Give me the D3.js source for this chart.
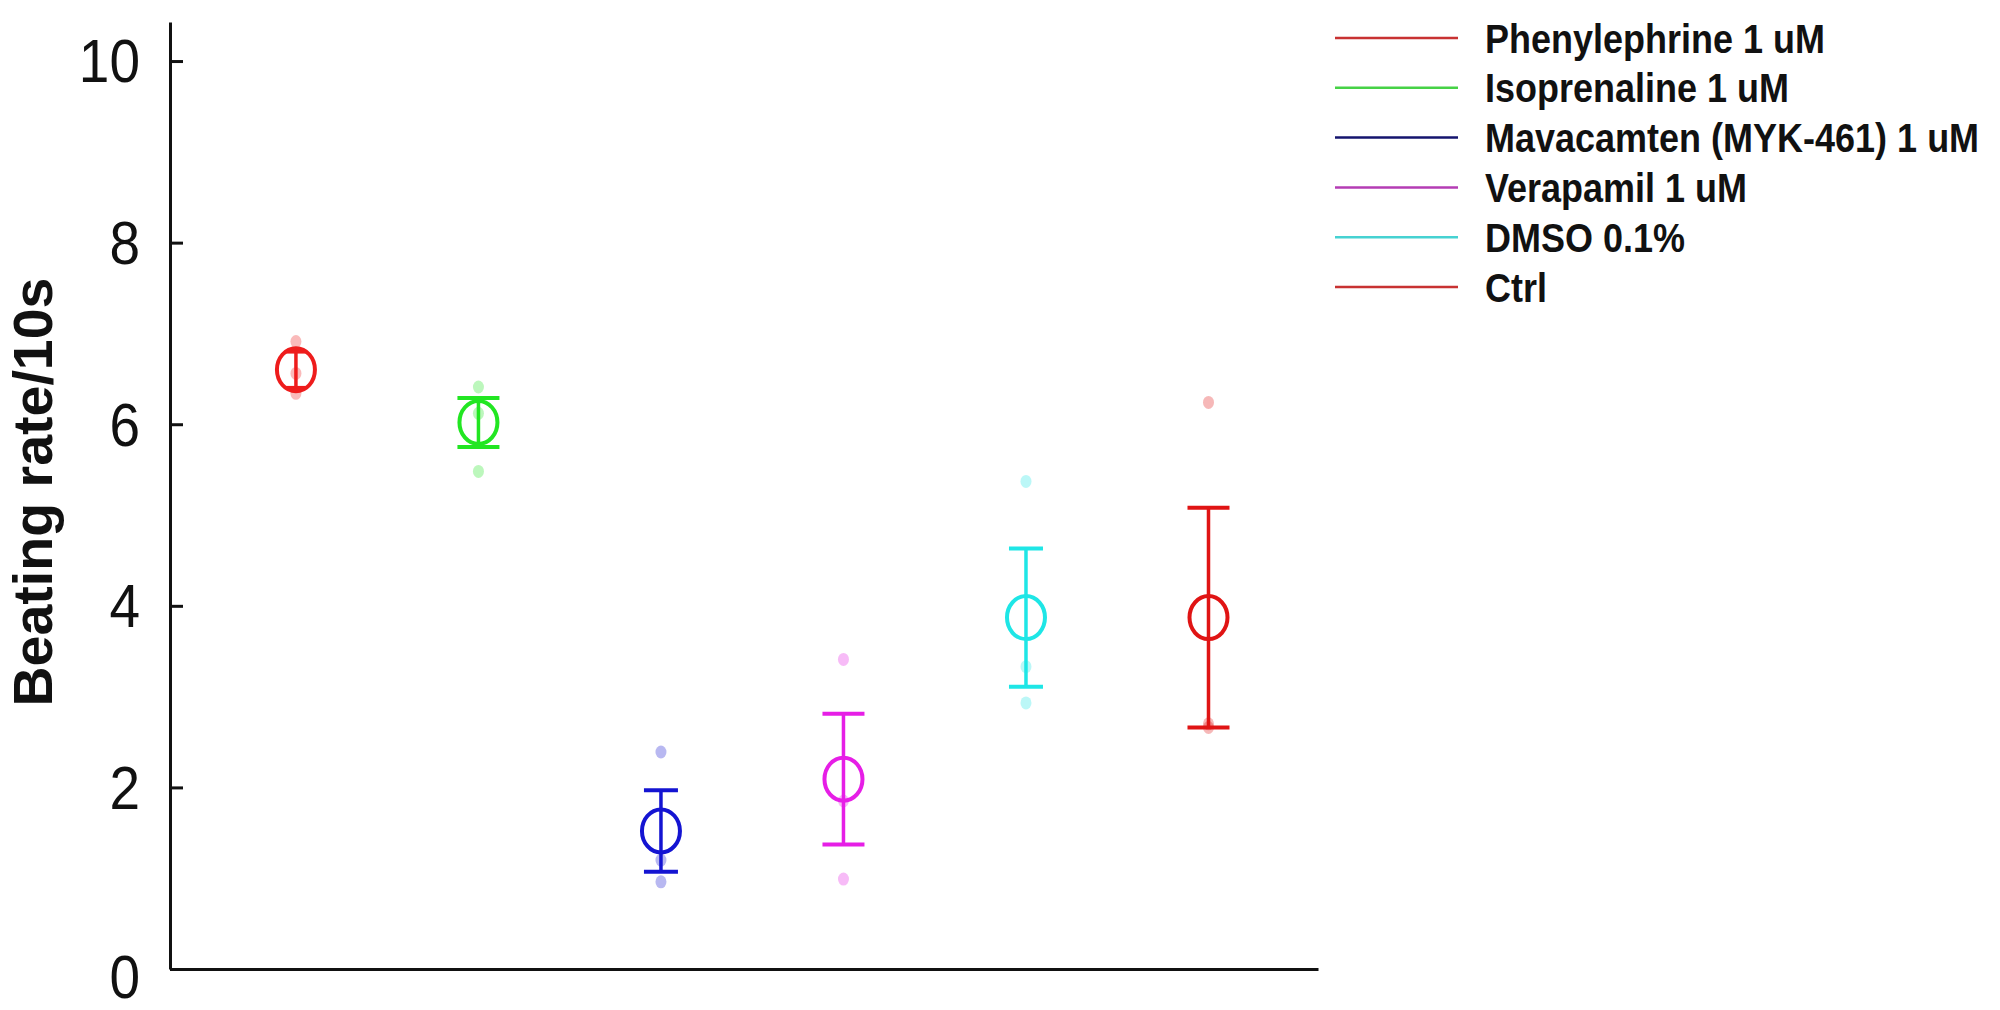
<!DOCTYPE html>
<html>
<head>
<meta charset="utf-8">
<script src="https://cdn.jsdelivr.net/npm/d3@7"></script>
<style>
  body { margin: 0; background: #fff; }
  text { fill: #111; }
</style>
</head>
<body>
<div id="chart"></div>
<script>
// groups, means, sem and the individual wells (n = 3)
var groups = ["Phenylephrine 1 uM", "Isoprenaline 1 uM", "Mavacamten (MYK-461) 1 uM",
              "Verapamil 1 uM", "DMSO 0.1%", "Ctrl"];
var means = [6.60, 6.02, 1.52, 2.09, 3.87, 3.87];
var sems = [0.20, 0.27, 0.45, 0.72, 0.76, 1.21];
var wells = [
  [6.91, 6.56, 6.34],
  [6.41, 6.12, 5.48],
  [2.39, 1.20, 0.96],
  [3.41, 1.85, 0.99],
  [5.37, 3.33, 2.93],
  [6.24, 2.70, 2.66]
];
var yTicks = [0, 2, 4, 6, 8, 10];

// styles
var markColors = ["#ee1c1c", "#22e622", "#1414d2", "#e61ee6", "#1ee6e6", "#e01414"];
var legendColors = ["#c83232", "#46d246", "#14146e", "#b43cb4", "#46d2d2", "#c83232"];
var capHalf = [10, 21, 17, 21, 17, 21];

var width = 2000, height = 1010;

var svg = d3.select("#chart")
  .append("svg")
    .attr("width", width)
    .attr("height", height);

var x = d3.scaleLinear()
    .domain([0.31, 6.6])
    .range([170, 1318]);

var y = d3.scaleLinear()
    .domain([0, 10.43])
    .range([969, 22]);

// Y axis, ticks pointing inward
var yAxis = svg.append("g")
    .attr("transform", "translate(170,0)")
    .call(d3.axisLeft(y)
      .tickValues(yTicks)
      .tickSizeInner(-13)
      .tickSizeOuter(0)
      .tickPadding(30)
      .tickFormat(d3.format("d")));
yAxis.select(".domain").attr("stroke", "#111").attr("stroke-width", 3);
yAxis.selectAll(".tick line").attr("stroke", "#111").attr("stroke-width", 3);
yAxis.selectAll(".tick text")
    .attr("font-family", "'Liberation Sans', Arial, sans-serif")
    .attr("font-size", 55)
    .attr("fill", "#111")
    .attr("transform", "scale(1,1.12)")
    .attr("dy", function(d) { return d === 0 ? "0.46em" : "0.34em"; });

// X axis, just the line
var xAxis = svg.append("g")
    .attr("transform", "translate(0," + y(0) + ")")
    .call(d3.axisBottom(x).tickValues([]).tickSizeOuter(0));
xAxis.select(".domain").attr("stroke", "#111").attr("stroke-width", 3);

// Y label
svg.append("text")
    .attr("transform", "translate(52,492) rotate(-90)")
    .attr("text-anchor", "middle")
    .attr("font-family", "'Liberation Sans Narrow', 'Arial Narrow', 'Liberation Sans', Arial, sans-serif")
    .attr("font-weight", "bold")
    .attr("font-size", 56)
    .attr("textLength", 429)
    .attr("lengthAdjust", "spacingAndGlyphs")
    .text("Beating rate/10s");

// individual wells
var pts = [];
wells.forEach(function(w, i) {
  w.forEach(function(v) { pts.push({g: i, v: v}); });
});
svg.append("g")
  .selectAll("ellipse")
  .data(pts)
  .enter()
  .append("ellipse")
    .attr("cx", function(d) { return x(d.g + 1); })
    .attr("cy", function(d) { return y(d.v); })
    .attr("rx", 5.5)
    .attr("ry", 6.5)
    .attr("fill", function(d) { return markColors[d.g]; })
    .attr("opacity", 0.3);

// error bars (mean +/- sem)
var bars = svg.append("g")
  .selectAll("g")
  .data(means)
  .enter()
  .append("g")
    .attr("stroke", function(d, i) { return markColors[i]; })
    .attr("fill", "none");

bars.append("line")
    .attr("x1", function(d, i) { return x(i + 1); })
    .attr("x2", function(d, i) { return x(i + 1); })
    .attr("y1", function(d, i) { return y(d + sems[i]); })
    .attr("y2", function(d, i) { return y(d - sems[i]); })
    .attr("stroke-width", 3.5);

bars.append("line")
    .attr("x1", function(d, i) { return x(i + 1) - capHalf[i]; })
    .attr("x2", function(d, i) { return x(i + 1) + capHalf[i]; })
    .attr("y1", function(d, i) { return y(d + sems[i]); })
    .attr("y2", function(d, i) { return y(d + sems[i]); })
    .attr("stroke-width", 4);

bars.append("line")
    .attr("x1", function(d, i) { return x(i + 1) - capHalf[i]; })
    .attr("x2", function(d, i) { return x(i + 1) + capHalf[i]; })
    .attr("y1", function(d, i) { return y(d - sems[i]); })
    .attr("y2", function(d, i) { return y(d - sems[i]); })
    .attr("stroke-width", 4);

bars.append("ellipse")
    .attr("cx", function(d, i) { return x(i + 1); })
    .attr("cy", function(d) { return y(d); })
    .attr("rx", 19)
    .attr("ry", 21.5)
    .attr("stroke-width", 4);

// legend
var ly = d3.scalePoint()
    .domain(groups)
    .range([38, 287]);

var legend = svg.append("g")
  .selectAll("g")
  .data(groups)
  .enter()
  .append("g")
    .attr("transform", function(d) { return "translate(0," + ly(d) + ")"; });

legend.append("line")
    .attr("x1", 1335)
    .attr("x2", 1458)
    .attr("stroke", function(d, i) { return legendColors[i]; })
    .attr("stroke-width", 2.5);

legend.append("text")
    .attr("transform", "translate(1485,0) scale(1,1.12)")
    .attr("dy", "0.36em")
    .attr("font-family", "'Liberation Sans', Arial, sans-serif")
    .attr("font-weight", "bold")
    .attr("font-size", 36)
    .text(function(d) { return d; });
</script>
</body>
</html>
